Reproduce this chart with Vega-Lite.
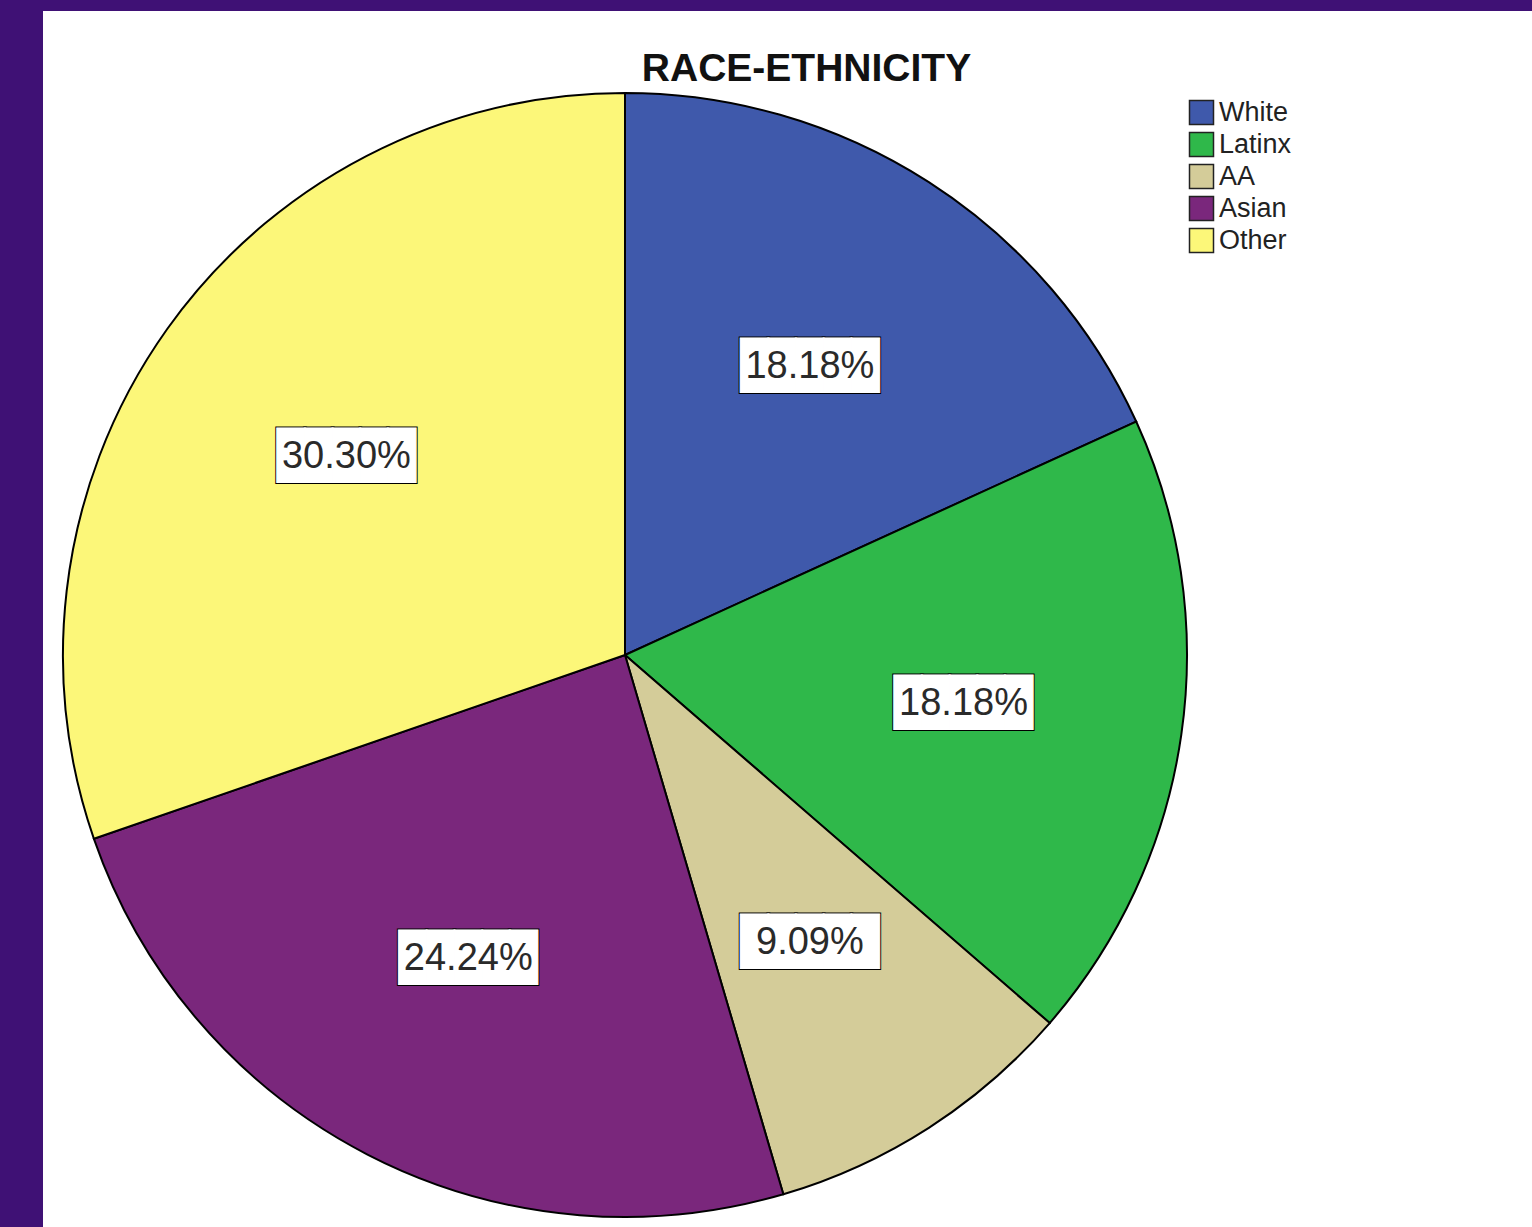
{
  "$schema": "https://vega.github.io/schema/vega-lite/v6.json",
  "width": 1532,
  "height": 1227,
  "autosize": {"type": "fit", "contains": "padding"},
  "padding": {"left": 43, "top": 11, "right": 0, "bottom": 0},
  "background": "#3f1175",
  "config": {"view": {"fill": "white", "stroke": null}},
  "title": {"text": "RACE-ETHNICITY", "font": "Liberation Sans", "fontSize": 39, "fontWeight": "bold", "color": "#111111", "anchor": "middle", "baseline": "alphabetic", "offset": -109, "dx": 19},
  "data": {"values": [
    {"race": "White", "share": 0.1818, "order": 1},
    {"race": "Latinx", "share": 0.1818, "order": 2},
    {"race": "AA", "share": 0.0909, "order": 3},
    {"race": "Asian", "share": 0.2424, "order": 4},
    {"race": "Other", "share": 0.3030, "order": 5}
  ]},
  "encoding": {
    "theta": {"field": "share", "type": "quantitative", "stack": true},
    "order": {"field": "order", "type": "quantitative"}
  },
  "layer": [
    {
      "mark": {"type": "arc", "outerRadius": 562, "stroke": "black", "strokeWidth": 2},
      "encoding": {
        "x": {"value": 582},
        "y": {"value": 644},
        "color": {
          "field": "race", "type": "nominal",
          "sort": ["White", "Latinx", "AA", "Asian", "Other"],
          "scale": {"domain": ["White", "Latinx", "AA", "Asian", "Other"], "range": ["#3f59ab", "#2fb84a", "#d4cc99", "#7a277c", "#fcf779"]},
          "legend": {"orient": "none", "legendX": 1145, "legendY": 88, "title": null, "symbolType": "square", "symbolSize": 576, "symbolStrokeColor": "#222222", "symbolStrokeWidth": 1.5, "symbolOpacity": 1, "labelFont": "Liberation Sans", "labelFontSize": 27, "labelColor": "#222222", "rowPadding": 1, "labelOffset": 4, "padding": 0}
        }
      }
    },
    {
      "mark": {"type": "text", "radius": 342, "font": "DejaVu Sans Mono", "fontSize": 46, "fill": "white", "stroke": "black", "strokeWidth": 3, "baseline": "middle", "align": "center"},
      "encoding": {"x": {"value": 582}, "y": {"value": 644}, "detail": {"field": "race"}, "text": {"value": "█████"}}
    },
    {
      "mark": {"type": "text", "radius": 342, "font": "DejaVu Sans Mono", "fontSize": 46, "fill": "white", "stroke": "white", "strokeWidth": 1, "baseline": "middle", "align": "center"},
      "encoding": {"x": {"value": 582}, "y": {"value": 644}, "detail": {"field": "race"}, "text": {"value": "█████"}}
    },
    {
      "mark": {"type": "text", "radius": 342, "font": "Liberation Sans", "fontSize": 38, "fill": "#2a2a2a", "baseline": "middle", "align": "center"},
      "encoding": {"x": {"value": 582}, "y": {"value": 644}, "detail": {"field": "race"}, "text": {"field": "share", "type": "quantitative", "format": ".2%"}}
    }
  ]
}
